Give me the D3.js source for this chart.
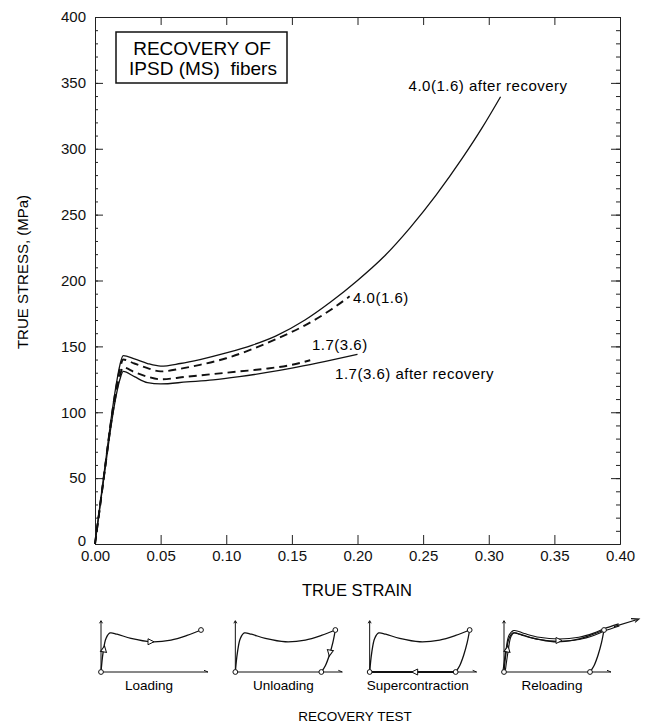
<!DOCTYPE html>
<html>
<head>
<meta charset="utf-8">
<script src="https://cdn.jsdelivr.net/npm/d3@7"></script>
<style>
  body { margin: 0; background: white; }
  svg { font-family: "Liberation Sans", Arial, sans-serif; }
  .axis path, .axis line { stroke: #222; }
  .axis text { font-size: 15px; fill: #111; }
</style>
</head>
<body>
<svg id="chart" width="651" height="726"></svg>
<script>
// stress-strain curves, [true strain, true stress MPa]
const after40 = [[0,0],[0.004,31],[0.008,62],[0.012,93],[0.016,120],[0.019,136],[0.0215,143],[0.03,140.5],[0.04,137],[0.05,135],[0.065,137],[0.08,140],[0.1,145],[0.12,151],[0.138,158],[0.16,170],[0.18,184],[0.2,200],[0.22,218],[0.24,240],[0.26,265],[0.28,293],[0.295,316],[0.309,339.5]];
const orig40 = [[0,0],[0.004,30],[0.008,61],[0.012,92],[0.016,118],[0.019,133],[0.0215,140],[0.03,137],[0.04,133.5],[0.05,131],[0.065,133],[0.08,136],[0.1,141],[0.12,148],[0.138,155.5],[0.16,166],[0.18,178],[0.194,188]];
const orig17 = [[0,0],[0.004,30],[0.008,60],[0.012,90],[0.016,114],[0.019,128],[0.0215,134],[0.03,130.5],[0.04,127],[0.05,125],[0.07,127],[0.09,129],[0.11,131],[0.13,133],[0.15,136],[0.164,139.5]];
const after17 = [[0,0],[0.004,30],[0.008,59],[0.012,88],[0.016,112],[0.019,125],[0.0215,131],[0.03,127],[0.04,122.5],[0.05,121.5],[0.07,123],[0.09,124.5],[0.11,127],[0.13,130],[0.15,133.5],[0.17,137.5],[0.2,144]];

const xTicks = [0, 0.05, 0.1, 0.15, 0.2, 0.25, 0.3, 0.35, 0.4];
const yTicks = [0, 50, 100, 150, 200, 250, 300, 350, 400];

// recovery test sketches (normalised shape coords)
const panelNames = ['Loading', 'Unloading', 'Supercontraction', 'Reloading'];
const loopTop = [[0,0],[0.02,0.45],[0.05,0.8],[0.09,0.93],[0.16,0.9],[0.3,0.8],[0.5,0.72],[0.7,0.76],[0.86,0.87],[1,1]];
const unloadPath = [[1,1],[0.975,0.7],[0.94,0.4],[0.9,0.15],[0.86,0]];
const returnPath = [[0.86,0],[0,0]];
const reloadPath = [[0,0],[0.03,0.5],[0.06,0.86],[0.1,0.96],[0.2,0.89],[0.35,0.8],[0.55,0.76],[0.75,0.8],[0.9,0.9],[1,1],[1.15,1.12]];

const svg = d3.select('#chart');

const x = d3.scaleLinear().domain([0, 0.4]).range([95, 620]);
const y = d3.scaleLinear().domain([0, 400]).range([544, 17]);
const minorY = d3.range(0, 401, 10);

// axes, ticks pointing inward
svg.append('g').attr('class', 'axis').attr('transform', 'translate(0,544)')
    .call(d3.axisBottom(x).tickValues(xTicks).tickFormat(d3.format('.2f')).tickSize(-9).tickSizeOuter(0).tickPadding(6));
svg.append('g').attr('class', 'axis').attr('transform', 'translate(0,17)')
    .call(d3.axisTop(x).tickValues(xTicks).tickFormat('').tickSize(-8).tickSizeOuter(0));
svg.append('g').attr('class', 'axis').attr('transform', 'translate(95,0)')
    .call(d3.axisLeft(y).tickValues(minorY).tickFormat('').tickSize(-3).tickSizeOuter(0));
const yAxis = svg.append('g').attr('class', 'axis').attr('transform', 'translate(95,0)')
    .call(d3.axisLeft(y).tickValues(yTicks).tickSize(-8).tickSizeOuter(0).tickPadding(9));
// the zero label sits a little higher, clear of 0.00
yAxis.selectAll('.tick text').filter(d => d === 0).attr('dy', '0.1em');
svg.append('g').attr('class', 'axis').attr('transform', 'translate(620,0)')
    .call(d3.axisRight(y).tickValues(minorY).tickFormat('').tickSize(-4).tickSizeOuter(0));
svg.append('g').attr('class', 'axis').attr('transform', 'translate(620,0)')
    .call(d3.axisRight(y).tickValues(yTicks).tickFormat('').tickSize(-9).tickSizeOuter(0));

svg.append('text').attr('x', 357).attr('y', 596).attr('text-anchor', 'middle')
    .style('font-size', '16.5px').text('TRUE STRAIN');
svg.append('text').attr('transform', 'translate(28,272) rotate(-90)').attr('text-anchor', 'middle')
    .style('font-size', '15px').text('TRUE STRESS, (MPa)');

// title box
svg.append('rect').attr('x', 116).attr('y', 32).attr('width', 171).attr('height', 51)
    .attr('fill', 'none').attr('stroke', '#111').attr('stroke-width', 1.5);
svg.append('text').attr('x', 202).attr('y', 55).attr('text-anchor', 'middle')
    .style('font-size', '19px').text('RECOVERY OF');
svg.append('text').attr('x', 203).attr('y', 75).attr('text-anchor', 'middle')
    .style('font-size', '19px').style('white-space', 'pre').text('IPSD (MS)  fibers');

// curves
const line = d3.line().x(d => x(d[0])).y(d => y(d[1])).curve(d3.curveMonotoneX);
const curves = [
    { data: after40, dash: null },
    { data: orig40, dash: '8,5' },
    { data: orig17, dash: '8,5' },
    { data: after17, dash: null }
];
curves.forEach(c => {
    svg.append('path').attr('d', line(c.data)).attr('fill', 'none').attr('stroke', '#111')
        .attr('stroke-width', c.dash ? 1.9 : 1.3)
        .attr('stroke-dasharray', c.dash);
});

const labels = [
    { t: '4.0(1.6) after recovery', sx: 0.2389, sy: 344 },
    { t: '4.0(1.6)', sx: 0.1966, sy: 183 },
    { t: '1.7(3.6)', sx: 0.1653, sy: 147 },
    { t: '1.7(3.6) after recovery', sx: 0.1829, sy: 125.5 }
];
labels.forEach(l => {
    svg.append('text').attr('x', x(l.sx)).attr('y', y(l.sy))
        .style('font-size', '15px').style('letter-spacing', '0.5px').text(l.t);
});

// recovery test sketches
const px = d3.scalePoint().domain(panelNames).range([101, 504]);
const u = d3.scaleLinear().domain([0, 1]).range([0, 100]);
const v = d3.scaleLinear().domain([0, 1]).range([672, 630]);
const sketch = d3.line().x(d => u(d[0])).y(d => v(d[1])).curve(d3.curveCatmullRom);

function tri(g, p, angle) {
    g.append('path').attr('d', 'M-3,-3L3,0L-3,3Z')
        .attr('transform', `translate(${u(p[0])},${v(p[1])}) rotate(${angle})`)
        .attr('fill', 'white').attr('stroke', '#111').attr('stroke-width', 1);
}
function dot(g, p) {
    g.append('circle').attr('cx', u(p[0])).attr('cy', v(p[1])).attr('r', 2.4)
        .attr('fill', 'white').attr('stroke', '#111').attr('stroke-width', 1);
}

panelNames.forEach((name, i) => {
    const g = svg.append('g').attr('transform', `translate(${px(name)},0)`);
    // little axes
    g.append('path').attr('d', `M0,${v(0)}V${v(1.22)}M-1.5,${v(1.16)}L0,${v(1.22)}L1.5,${v(1.16)}`)
        .attr('fill', 'none').attr('stroke', '#111').attr('stroke-width', 1);
    g.append('path').attr('d', `M0,${v(0)}H${u(1.07)}M${u(1.03)},${v(0.04)}L${u(1.07)},${v(0)}`)
        .attr('fill', 'none').attr('stroke', '#111').attr('stroke-width', 1);

    if (name === 'Reloading') {
        g.append('path').attr('d', sketch(reloadPath)).attr('fill', 'none').attr('stroke', '#111').attr('stroke-width', 3.4);
        g.append('path').attr('d', sketch(reloadPath)).attr('fill', 'none').attr('stroke', 'white').attr('stroke-width', 1.2);
        g.append('path').attr('d', `M${u(1.1)},${v(1.08)}L${u(1.35)},${v(1.26)}M${u(1.27)},${v(1.27)}L${u(1.35)},${v(1.26)}L${u(1.31)},${v(1.18)}`)
            .attr('fill', 'none').attr('stroke', '#111').attr('stroke-width', 1.1);
    }
    g.append('path').attr('d', sketch(loopTop)).attr('fill', 'none').attr('stroke', '#111').attr('stroke-width', 1.3);
    if (i > 0) g.append('path').attr('d', sketch(unloadPath)).attr('fill', 'none').attr('stroke', '#111').attr('stroke-width', 1.3);
    if (name === 'Supercontraction') g.append('path').attr('d', sketch(returnPath)).attr('fill', 'none').attr('stroke', '#111').attr('stroke-width', 1.8);

    dot(g, [0, 0]);
    if (name === 'Loading') { tri(g, [0.03, 0.55], -80); tri(g, [0.5, 0.72], 0); dot(g, [1, 1]); }
    if (name === 'Unloading') { tri(g, [0.945, 0.45], 100); dot(g, [1, 1]); dot(g, [0.86, 0]); }
    if (name === 'Supercontraction') { tri(g, [0.45, 0], 180); dot(g, [1, 1]); dot(g, [0.86, 0]); }
    if (name === 'Reloading') { tri(g, [0.035, 0.55], -80); tri(g, [0.55, 0.75], 0); dot(g, [1, 1]); dot(g, [0.86, 0]); }

    g.append('text').attr('x', u(0.48)).attr('y', 690).attr('text-anchor', 'middle')
        .style('font-size', '13.5px').text(name);
});

svg.append('text').attr('x', 355).attr('y', 721).attr('text-anchor', 'middle')
    .style('font-size', '13.5px').text('RECOVERY TEST');
</script>
</body>
</html>
